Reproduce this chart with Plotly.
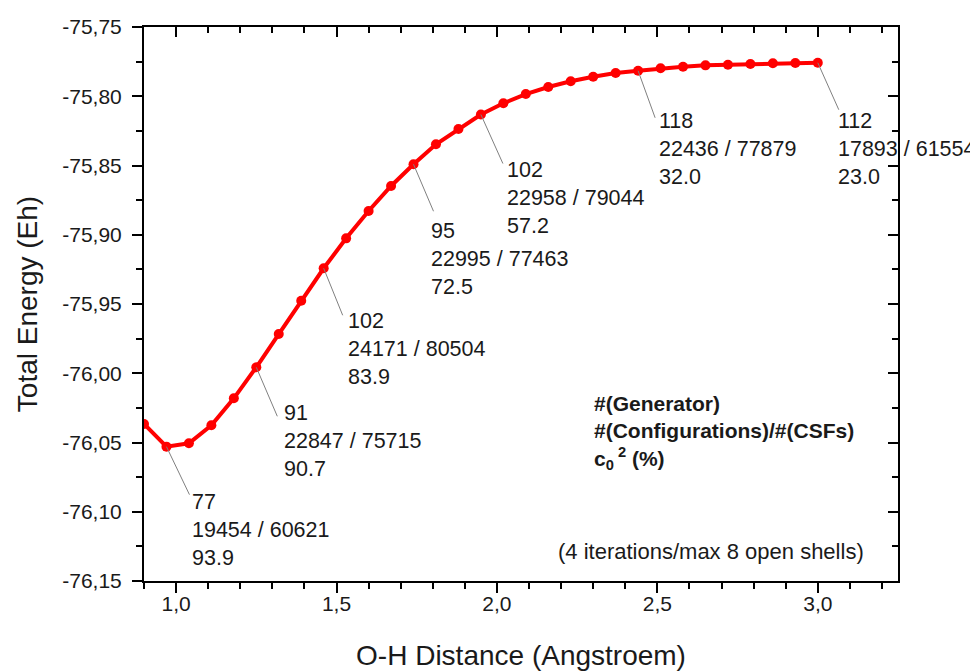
"""O-H dissociation curve of water: total energy vs. bond distance."""

import plotly.graph_objects as go

# --- data -------------------------------------------------------------------
x_dist = [0.90, 0.97, 1.04, 1.11, 1.18, 1.25, 1.32, 1.39, 1.46, 1.53, 1.60,
          1.67, 1.74, 1.81, 1.88, 1.95, 2.02, 2.09, 2.16, 2.23, 2.30, 2.37,
          2.44, 2.51, 2.58, 2.65, 2.72, 2.79, 2.86, 2.93, 3.00]
energy = [-76.0366, -76.0530, -76.0506, -76.0376, -76.0181, -75.9957, -75.9717,
          -75.9476, -75.9242, -75.9026, -75.8828, -75.8648, -75.8491, -75.8347,
          -75.8236, -75.8132, -75.8051, -75.7984, -75.7933, -75.7892, -75.7859,
          -75.7832, -75.7816, -75.7798, -75.7787, -75.7777, -75.7772, -75.7767,
          -75.7762, -75.7760, -75.7758]

label_dist = [0.97, 1.25, 1.46, 1.74, 1.95, 2.44, 3.00]
generators = [77, 91, 102, 95, 102, 118, 112]
configurations = [19454, 22847, 24171, 22995, 22958, 22436, 17893]
csfs = [60621, 75715, 80504, 77463, 79044, 77879, 61554]
c0_squared = ["93.9", "90.7", "83.9", "72.5", "57.2", "32.0", "23.0"]

x_tick_vals = [1.0, 1.5, 2.0, 2.5, 3.0]
x_tick_text = ["1,0", "1,5", "2,0", "2,5", "3,0"]
y_tick_vals = [-75.75, -75.80, -75.85, -75.90, -75.95, -76.00, -76.05, -76.10, -76.15]
y_tick_text = ["-75,75", "-75,80", "-75,85", "-75,90", "-75,95", "-76,00", "-76,05", "-76,10", "-76,15"]

# leader line end and text position, in pixels from the data point
leader_px = [(23, 48), (21, 49), (19, 47), (20, 47), (22, 49), (17, 47), (21, 47)]
text_px = [(25, 55), (27, 46), (23, 53), (16, 67), (25, 55), (20, 50), (19, 58)]

FONT = "Liberation Sans, Arial, sans-serif"
X_RANGE = [0.9, 3.25]
Y_RANGE = [-76.15, -75.75]

fig = go.Figure()
fig.add_trace(go.Scatter(
    x=x_dist, y=energy, mode="lines+markers",
    line=dict(color="#ff0000", width=4),
    marker=dict(color="#ff0000", size=10),
    showlegend=False, hoverinfo="x+y",
))
# empty trace so the mirrored top/right axes get drawn
fig.add_trace(go.Scatter(x=[], y=[], xaxis="x2", yaxis="y2", showlegend=False))

shapes = []
annotations = []
for i, xv in enumerate(label_dist):
    yv = energy[x_dist.index(xv)]
    lx, ly = leader_px[i]
    shapes.append(dict(
        type="line", xref="x", yref="y",
        xsizemode="pixel", xanchor=xv, x0=0, x1=lx,
        ysizemode="pixel", yanchor=yv, y0=0, y1=-ly,
        line=dict(color="#808080", width=1),
    ))
    tx, ty = text_px[i]
    annotations.append(dict(
        x=xv, y=yv, xref="x", yref="y", showarrow=False,
        xanchor="left", yanchor="top", align="left",
        xshift=tx - 1, yshift=-(ty - 14),
        text=f"{generators[i]}<br>{configurations[i]} / {csfs[i]}<br>{c0_squared[i]}",
        font=dict(family=FONT, size=21.5, color="#1a1a1a"),
    ))

annotations.append(dict(
    x=0.594, y=0.345, xref="paper", yref="paper", showarrow=False,
    xanchor="left", yanchor="top", align="left",
    text="<b>#(Generator)<br>#(Configurations)/#(CSFs)<br>c<sub>0</sub><sup> 2</sup> (%)</b>",
    font=dict(family=FONT, size=21, color="#1a1a1a"),
))
annotations.append(dict(
    x=0.958, y=0.053, xref="paper", yref="paper", showarrow=False,
    xanchor="right", yanchor="middle",
    text="(4 iterations/max 8 open shells)",
    font=dict(family=FONT, size=22, color="#1a1a1a"),
))

axis_common = dict(showgrid=False, zeroline=False, showline=True, automargin=False,
                   linecolor="black", linewidth=2, tickcolor="black", tickwidth=2)

# the page body keeps its default 8px margin, so the figure is 8px smaller
fig.update_layout(
    width=970, height=663,
    margin=dict(l=136, r=80, t=19, b=90),
    paper_bgcolor="white", plot_bgcolor="white",
    font=dict(family=FONT, size=21, color="#1a1a1a"),
    xaxis=dict(
        range=X_RANGE, tickmode="array", tickvals=x_tick_vals, ticktext=x_tick_text,
        ticks="outside", ticklen=10, ticklabelstandoff=-7,
        minor=dict(tickmode="linear", tick0=0.9, dtick=0.1, ticks="outside",
                   ticklen=6, tickwidth=2, tickcolor="black"),
        title=dict(text="O-H Distance (Angstroem)", font=dict(size=28), standoff=31),
        tickfont=dict(size=21),
        **axis_common,
    ),
    yaxis=dict(
        range=Y_RANGE, tickmode="array", tickvals=y_tick_vals, ticktext=y_tick_text,
        ticks="outside", ticklen=10, ticklabelstandoff=6,
        minor=dict(tickmode="linear", tick0=-76.15, dtick=0.025, ticks="outside",
                   ticklen=6, tickwidth=2, tickcolor="black"),
        title=dict(text="Total Energy (Eh)", font=dict(size=28), standoff=16),
        tickfont=dict(size=21),
        **axis_common,
    ),
    xaxis2=dict(
        overlaying="x", side="top", range=X_RANGE, tickmode="array",
        tickvals=x_tick_vals, showticklabels=False, ticks="inside", ticklen=10,
        minor=dict(tickmode="linear", tick0=0.9, dtick=0.1, ticks="inside",
                   ticklen=6, tickwidth=2, tickcolor="black"),
        **axis_common,
    ),
    yaxis2=dict(
        overlaying="y", side="right", range=Y_RANGE, tickmode="array",
        tickvals=y_tick_vals, showticklabels=False, ticks="inside", ticklen=10,
        minor=dict(tickmode="linear", tick0=-76.15, dtick=0.025, ticks="inside",
                   ticklen=6, tickwidth=2, tickcolor="black"),
        **axis_common,
    ),
    shapes=shapes,
    annotations=annotations,
)

fig.write_html("out.html")
